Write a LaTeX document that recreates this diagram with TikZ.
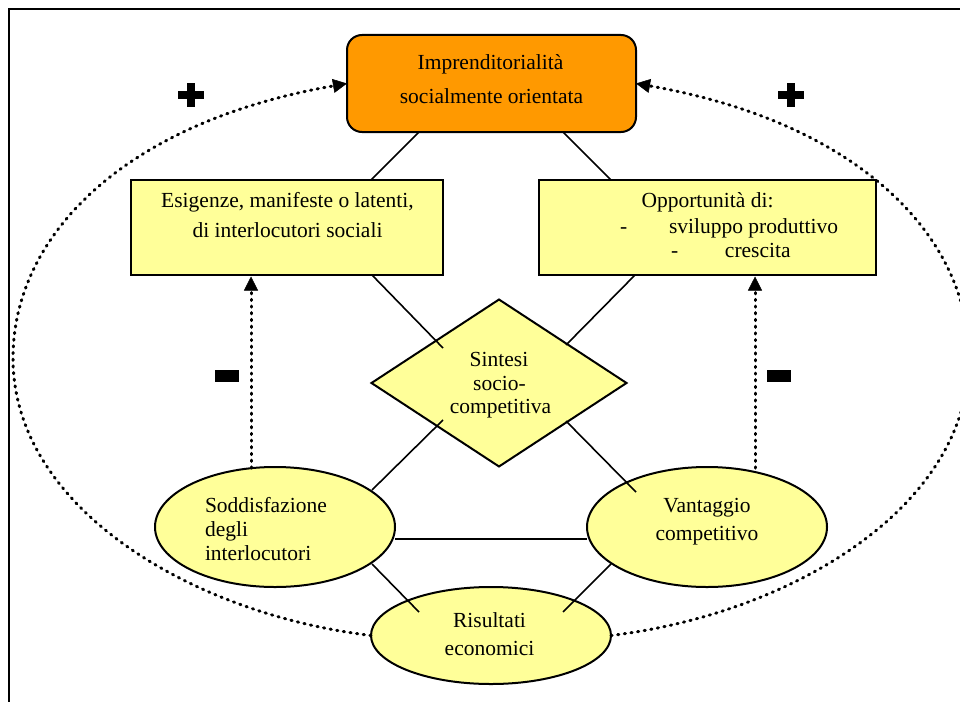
\documentclass[tikz,border=0pt]{standalone}
\usepackage{fontspec}
\setmainfont{Liberation Serif}
\usetikzlibrary{arrows.meta,shapes.geometric}
\definecolor{boxorange}{HTML}{FF9900}
\definecolor{boxyellow}{HTML}{FFFF99}
\begin{document}
\begin{tikzpicture}[x=1pt,y=-1pt,
  every node/.style={inner sep=0pt, outer sep=0pt},
  shapeline/.style={draw=black, line width=2pt},
  panel/.style={shapeline, rectangle, fill=boxyellow},
  oval/.style={shapeline, ellipse, fill=boxyellow},
  link/.style={draw=black, line width=1.6pt},
  txt/.style={anchor=base, font=\fontsize{21.5}{26}\selectfont, text=black},
  txtw/.style={txt, anchor=base west},
  dotline/.style={line width=3pt, line cap=round, dash pattern=on 1.2pt off 5.5pt},
  tip/.style={-{Triangle[length=14pt,width=14pt,line width=0.5pt]}},
  sign/.style={fill=black, draw=none}
]
\useasboundingbox (0,0) rectangle (960,701);
\clip (0,0) rectangle (960,701);

% outer frame
\draw[line width=2.6pt] (9,9) rectangle (1000,760);

% shapes
\node[shapeline, rounded corners=15pt, fill=boxorange, minimum width=289pt, minimum height=97pt] (top) at (491.5,83.5) {};
\node[panel, minimum width=312pt, minimum height=95pt] (lbox) at (287,227.5) {};
\node[panel, minimum width=337pt, minimum height=95pt] (rbox) at (707.5,227.5) {};
\node[shapeline, diamond, fill=boxyellow, minimum width=255pt, minimum height=167pt] (dia) at (499,383) {};
\node[oval, minimum width=240pt, minimum height=120pt] (lell) at (275,527) {};
\node[oval, minimum width=240pt, minimum height=120pt] (rell) at (707,527) {};
\node[oval, minimum width=240pt, minimum height=97pt] (bot) at (491,635.5) {};

% solid connectors
\draw[link] ([shift={(-72.5,48.5)}]top.center) -- ([shift={(84,-47.5)}]lbox.center);
\draw[link] ([shift={(71.5,48.5)}]top.center) -- ([shift={(-96.5,-47.5)}]rbox.center);
\draw[link] ([shift={(85,47.5)}]lbox.center) -- ([shift={(-56,-35)}]dia.center);
\draw[link] ([shift={(-72.5,47.5)}]rbox.center) -- ([shift={(67,-38)}]dia.center);
\draw[link] ([shift={(-56,37)}]dia.center) -- ([shift={(97,-37)}]lell.center);
\draw[link] ([shift={(67,38)}]dia.center) -- ([shift={(-71,-35)}]rell.center);
\draw[link] ([shift={(120,12)}]lell.center) -- ([shift={(-120,12)}]rell.center);
\draw[link] ([shift={(97,37)}]lell.center) -- ([shift={(-72,-23.5)}]bot.center);
\draw[link] ([shift={(-96,37)}]rell.center) -- ([shift={(72,-23.5)}]bot.center);

% feedback loops
\draw[dotline, tip] ([shift={(-24,-59)}]lell.center) -- ([shift={(-36,49)}]lbox.center);
\draw[dotline, tip] ([shift={(48,-59)}]rell.center) -- ([shift={(47.5,49)}]rbox.center);

\coordinate (lx) at (13,358);
\coordinate (rx) at (969,358);
\draw[dotline, tip] (bot.west) .. controls (192,614) and (13,508) .. (lx)
  .. controls (13,238) and (121,123) .. (top.west);
\draw[dotline, tip] (bot.east) .. controls (790,614) and (969,508) .. (rx)
  .. controls (969,238) and (861,123) .. (top.east);

% signs
\fill[sign] (178.3,91) rectangle (204,99);
\fill[sign] (186.8,82.8) rectangle (194.8,107.3);
\fill[sign] (778.3,91) rectangle (804,99);
\fill[sign] (787,82.8) rectangle (795,107.3);
\fill[sign] (215,370) rectangle (239,382);
\fill[sign] (767,370) rectangle (791,382);

% texts
\node[txt] (t1) at (490.5,70) {Imprenditorialità};
\node[txt] (t2) at (491.5,103.3) {socialmente orientata};
\node[txt] (t3) at (287.5,207) {Esigenze, manifeste o latenti,};
\node[txt] (t4) at (287.5,237.3) {di interlocutori sociali};
\node[txt] (t5) at (707.5,207) {Opportunità di:};
\node[txtw] (t6) at (620,233.3) {\makebox[49pt][l]{-}sviluppo produttivo};
\node[txtw] (t7) at (671,257.3) {\makebox[54pt][l]{-}crescita};
\node[txt] (t8) at (499,366) {Sintesi};
\node[txt] (t9) at (499.5,390) {socio-};
\node[txt] (t10) at (500.5,413.3) {competitiva};
\node[txtw] (t11) at (205,512) {Soddisfazione};
\node[txtw] (t12) at (205,536) {degli};
\node[txtw] (t13) at (205,560) {interlocutori};
\node[txt] (t14) at (707,512) {Vantaggio};
\node[txt] (t15) at (707,540) {competitivo};
\node[txt] (t16) at (489.5,627.7) {Risultati};
\node[txt] (t17) at (489.5,655.7) {economici};
\end{tikzpicture}
\end{document}
